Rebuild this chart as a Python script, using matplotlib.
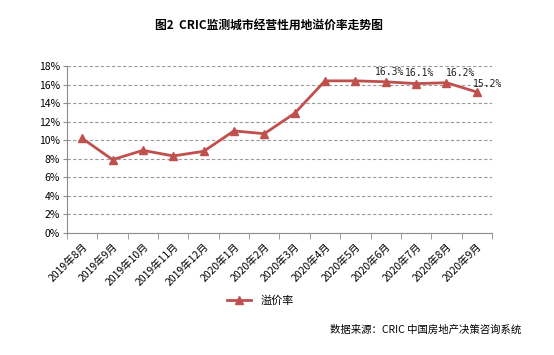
import matplotlib
matplotlib.use('Agg')
from matplotlib import pyplot as plt
from matplotlib.ticker import FixedLocator, PercentFormatter

plt.rcParams['font.family'] = ['Noto Sans CJK SC', 'DejaVu Sans']

# data
months = ['2019年8月', '2019年9月', '2019年10月', '2019年11月', '2019年12月',
          '2020年1月', '2020年2月', '2020年3月', '2020年4月', '2020年5月',
          '2020年6月', '2020年7月', '2020年8月', '2020年9月']
premium = [10.2, 7.9, 8.9, 8.3, 8.8, 11.0, 10.7, 12.9, 16.4, 16.4,
           16.3, 16.1, 16.2, 15.2]
labelled = [10, 11, 12, 13]
label_offsets = {10: (4, 10), 11: (3, 11), 12: (14, 10), 13: (11, 8)}

red = '#C0504D'
gray = '#8C8C8C'

fig = plt.figure(figsize=(5.54, 3.55), dpi=100)
ax = fig.add_axes([0.121, 0.344, 0.767, 0.470])

xs = list(range(len(months)))
ax.plot(xs, premium, color=red, lw=2, marker='^', ms=6, label='溢价率')

for i in labelled:
    dx, dy = label_offsets[i]
    ax.annotate('%.1f%%' % premium[i], (xs[i], premium[i]),
                xytext=(dx, dy), textcoords='offset pixels',
                ha='center', va='center', fontsize=7,
                family='DejaVu Sans Mono', color='#222222')

ax.set_xlim(-0.5, len(months) - 0.5)
ax.set_ylim(0, 18)
ax.set_yticks(range(0, 19, 2))
ax.yaxis.set_major_formatter(PercentFormatter(decimals=0))
ax.yaxis.grid(True, linestyle=(0, (3, 2)), color='#9a9a9a', lw=0.8)
ax.set_axisbelow(True)

ax.set_xticks(xs)
ax.set_xticklabels(months, rotation=45, ha='right', rotation_mode='anchor',
                   fontsize=7.5)
ax.xaxis.set_minor_locator(FixedLocator([i - 0.5 for i in range(len(months) + 1)]))
ax.tick_params(axis='x', which='major', length=0, pad=6)
ax.tick_params(axis='x', which='minor', length=4, color=gray, direction='out')
ax.tick_params(axis='y', length=3, color=gray, labelsize=7.5, pad=2)

for s in ['top', 'right']:
    ax.spines[s].set_visible(False)
for s in ['left', 'bottom']:
    ax.spines[s].set_color(gray)

fig.text(0.485, 0.93, '图2  CRIC监测城市经营性用地溢价率走势图', ha='center',
         va='center', fontsize=8.5, fontweight='bold')
fig.legend(loc='center', bbox_to_anchor=(0.47, 0.152), frameon=False,
           fontsize=8, handlelength=2.2)
fig.text(0.94, 0.07, '数据来源：CRIC 中国房地产决策咨询系统', ha='right',
         va='center', fontsize=7.5)

plt.savefig('out.png', dpi=100)
